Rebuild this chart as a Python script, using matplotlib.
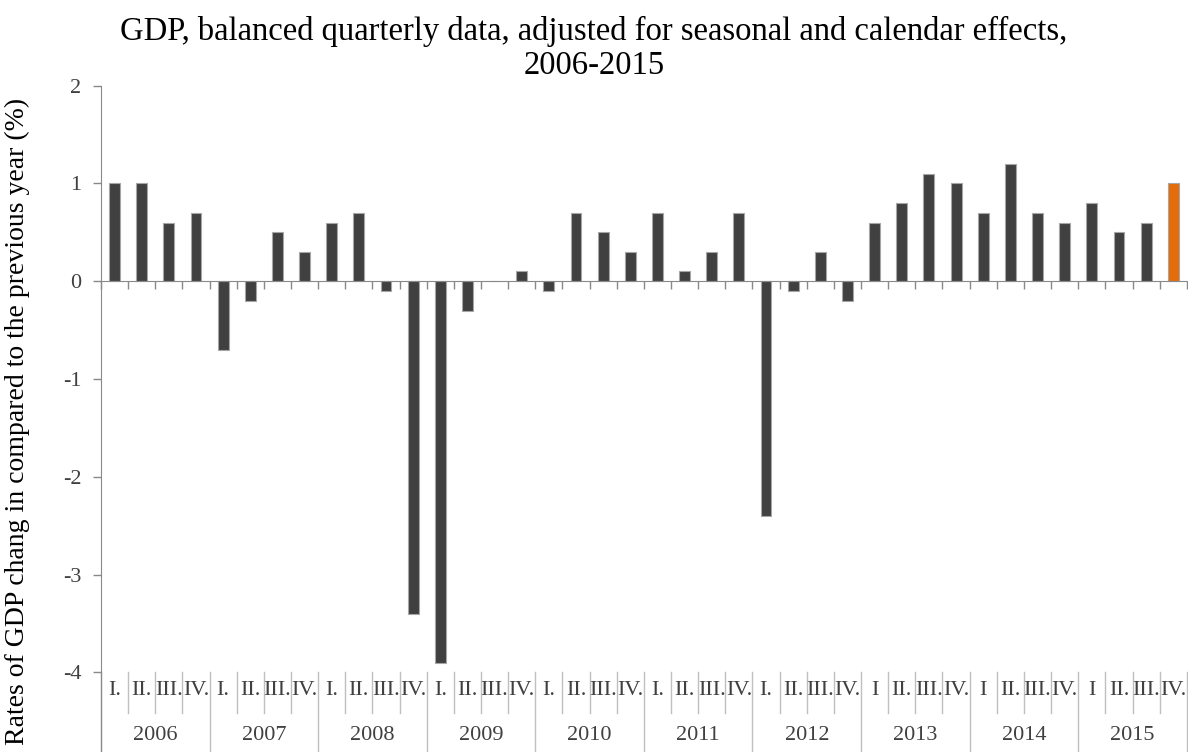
import numpy as np
import matplotlib
matplotlib.use('Agg')
import matplotlib.pyplot as plt
import matplotlib.transforms as mtransforms

plt.rcParams['font.family'] = ['Liberation Serif', 'DejaVu Serif']

# Data
years = ['2006', '2007', '2008', '2009', '2010', '2011', '2012', '2013', '2014', '2015']
quarters = [
    ['I.', 'II.', 'III.', 'IV.'],  # 2006
    ['I.', 'II.', 'III.', 'IV.'],  # 2007
    ['I.', 'II.', 'III.', 'IV.'],  # 2008
    ['I.', 'II.', 'III.', 'IV.'],  # 2009
    ['I.', 'II.', 'III.', 'IV.'],  # 2010
    ['I.', 'II.', 'III.', 'IV.'],  # 2011
    ['I.', 'II.', 'III.', 'IV.'],  # 2012
    ['I', 'II.', 'III.', 'IV.'],   # 2013
    ['I', 'II.', 'III.', 'IV.'],   # 2014
    ['I', 'II.', 'III.', 'IV.'],   # 2015
]
gdp_change = [
    1.0, 1.0, 0.6, 0.7,
    -0.7, -0.2, 0.5, 0.3,
    0.6, 0.7, -0.1, -3.4,
    -3.9, -0.3, 0.0, 0.1,
    -0.1, 0.7, 0.5, 0.3,
    0.7, 0.1, 0.3, 0.7,
    -2.4, -0.1, 0.3, -0.2,
    0.6, 0.8, 1.1, 1.0,
    0.7, 1.2, 0.7, 0.6,
    0.8, 0.5, 0.6, 1.0,
]
highlight_last = True

DARK = '#404040'
ORANGE = '#E46C0A'
AXIS_GREY = '#898989'
SEP_GREY = '#BFBFBF'
TEXT_GREY = '#404040'

n = len(gdp_change)
x = np.arange(n)
colors = [DARK] * n
if highlight_last:
    colors[-1] = ORANGE

fig = plt.figure(figsize=(11.88, 7.52), dpi=100)
ax = fig.add_axes([0.085, 0.106, 0.914, 0.78])

ax.bar(x, gdp_change, width=0.4, color=colors, edgecolor='#A6A6A6', linewidth=0.8, zorder=3)

ax.set_xlim(-0.5, n - 0.5)
ax.set_ylim(-4, 2)
ax.set_yticks([-4, -3, -2, -1, 0, 1, 2])
ax.set_yticklabels(['-4', '-3', '-2', '-1', '0', '1', '2'])

# spines
for s in ['top', 'right']:
    ax.spines[s].set_visible(False)
ax.spines['left'].set_color(AXIS_GREY)
ax.spines['bottom'].set_position(('data', 0))
ax.spines['bottom'].set_color(AXIS_GREY)
ax.spines['bottom'].set_zorder(4)

ax.set_xticks(np.arange(n + 1) - 0.5)
ax.set_xticklabels([])
ax.tick_params(axis='x', direction='out', length=6, color=AXIS_GREY, width=1)
ax.tick_params(axis='y', direction='out', length=6, color=AXIS_GREY, width=1,
               labelsize=16, labelcolor=TEXT_GREY, pad=8)

# category labels below the plot area
trans = mtransforms.blended_transform_factory(ax.transData, ax.transAxes)
ax.plot([-0.5, -0.5], [0, -0.14], transform=trans, color=AXIS_GREY, lw=1, clip_on=False)
for yi, yr in enumerate(years):
    for qi, q in enumerate(quarters[yi]):
        pos = yi * 4 + qi
        ax.text(pos, -0.031, q, transform=trans, ha='center', va='center',
                fontsize=16, color=TEXT_GREY)
        if qi > 0:
            ax.plot([pos - 0.5, pos - 0.5], [0, -0.07], transform=trans,
                    color=SEP_GREY, lw=1, clip_on=False)
    ax.text(yi * 4 + 1.5, -0.108, yr, transform=trans, ha='center', va='center',
            fontsize=16, color=TEXT_GREY)
    ax.plot([yi * 4 + 3.5, yi * 4 + 3.5], [0, -0.14], transform=trans,
            color=SEP_GREY, lw=1, clip_on=False)

fig.text(0.5, 0.936, 'GDP, balanced quarterly data, adjusted for seasonal and calendar effects,\n2006-2015',
         ha='center', va='center', fontsize=23.5, color='#000000', linespacing=1.15)
fig.text(0.015, 0.44, 'Rates of GDP chang in compared to the previous year (%)',
         rotation=90, ha='center', va='center', fontsize=20, color='#000000')

fig.savefig('out.png', dpi=100)
plt.close(fig)
